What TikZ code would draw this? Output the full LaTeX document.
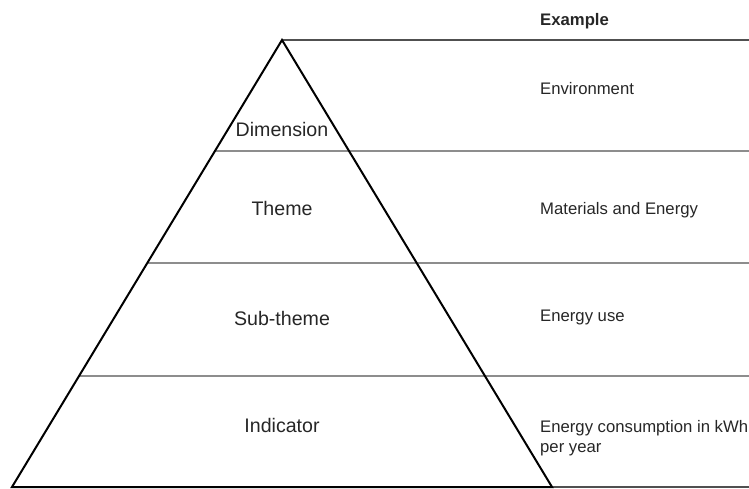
\documentclass[tikz,border=0pt]{standalone}
\usepackage{fontspec}
\setmainfont{Liberation Sans}
\usetikzlibrary{calc}
\definecolor{txt}{HTML}{262626}
\definecolor{rule}{HTML}{505050}
\begin{document}
\begin{tikzpicture}[x=1bp,y=-1bp,
  side/.style={draw=black,line width=2bp,line join=miter},
  level/.style={draw=rule,line width=1.4bp},
  tier/.style={anchor=base,text=txt,inner sep=0pt,font=\fontsize{19.6bp}{22bp}\selectfont},
  example/.style={anchor=base west,text=txt,inner sep=0pt,align=left,font=\fontsize{16.7bp}{20bp}\selectfont}]
  \useasboundingbox (0,0) rectangle (749,489);
  % pyramid corners and the far ends of the rules
  \coordinate (apex) at (282,40);
  \coordinate (bl) at (12,487);
  \coordinate (br) at (552,487);
  \coordinate (e0) at (749,40);
  \coordinate (e1) at (749,151);
  \coordinate (e2) at (749,263);
  \coordinate (e3) at (749,376);
  \coordinate (e4) at (749,487);
  % level boundaries on the left side
  \coordinate (l1) at ($(apex)!{(151-40)/447}!(bl)$);
  \coordinate (l2) at ($(apex)!{(263-40)/447}!(bl)$);
  \coordinate (l3) at ($(apex)!{(376-40)/447}!(bl)$);
  % horizontal rules
  \draw[level] (apex) -- (e0);
  \draw[level] (l1) -- (e1);
  \draw[level] (l2) -- (e2);
  \draw[level] (l3) -- (e3);
  \draw[level] (br) -- (e4);
  % pyramid outline
  \draw[side] (apex) -- (bl) -- (br) -- cycle;
  % tier labels
  \node[tier] (dim) at (282,136.7) {Dimension};
  \node[tier] (theme) at (282,216) {Theme};
  \node[tier] (sub) at (282,325) {Sub-theme};
  \node[tier] (ind) at (282,432.3) {Indicator};
  % example column (a two-line node sits on its last baseline)
  \node[example,font=\fontsize{16.7bp}{20bp}\selectfont\bfseries] (head) at (540,26) {Example};
  \node[example] (ex1) at (540,95) {Environment};
  \node[example] (ex2) at (540,215) {Materials and Energy};
  \node[example] (ex3) at (540,321.7) {Energy use};
  \node[example] (ex4) at (540,452) {Energy consumption in kWh\\per year};
\end{tikzpicture}
\end{document}
